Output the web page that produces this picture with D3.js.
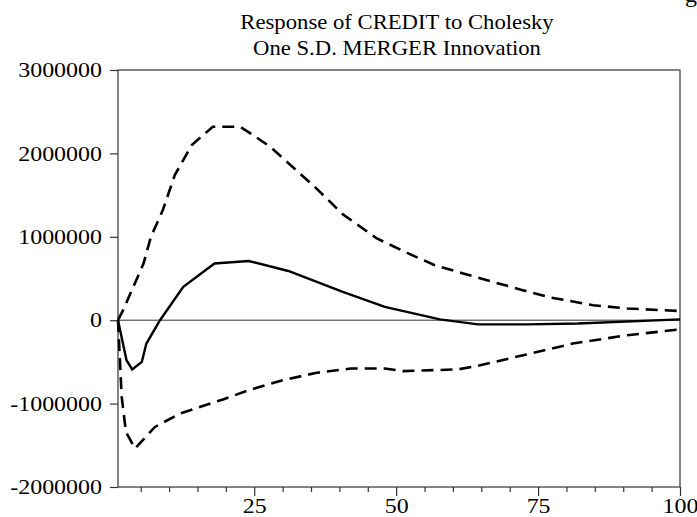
<!DOCTYPE html>
<html>
<head>
<meta charset="utf-8">
<script src="https://cdn.jsdelivr.net/npm/d3@7"></script>
<style>
  html, body { margin: 0; padding: 0; background: #fff; }
  svg { display: block; }
  text { font-family: "Liberation Serif", "Times New Roman", Times, serif; fill: #000; }
</style>
</head>
<body>
<svg id="chart" width="697" height="517"></svg>
<script>
// ---- data ----
const titleLines = ["Response of CREDIT to Cholesky", "One S.D. MERGER Innovation"];
const yTicks = [-2000000, -1000000, 0, 1000000, 2000000, 3000000];
const xMajorTicks = [25, 50, 75, 100];
const xMinorTicks = [5, 10, 15, 20, 30, 35, 40, 45, 55, 60, 65, 70, 80, 85, 90, 95];

// response (solid line)
const respPeriods = [1, 2.5, 3.5, 5.2, 6, 8.4, 12.5, 18, 24, 31, 40.6, 48, 57.7, 64.4, 73, 82, 100];
const respValues  = [0, -480000, -590000, -500000, -280000, 0, 400000, 680000, 710000, 590000, 340000, 160000, 10000, -50000, -50000, -40000, 10000];

// upper band (dashed)
const upperPeriods = [1, 1.9, 5.5, 6.8, 8.9, 11, 14, 17.7, 22.5, 24.8, 27.8, 32.7, 35.8, 40.6, 46.6, 52.8, 56.8, 61.8, 67, 72.3, 77.4, 84.7, 90.7, 100];
const upperValues  = [0, 120000, 680000, 1000000, 1320000, 1740000, 2100000, 2320000, 2320000, 2220000, 2080000, 1780000, 1590000, 1270000, 980000, 780000, 660000, 560000, 460000, 360000, 270000, 180000, 140000, 110000];

// lower band (dashed)
const lowerPeriods = [1, 1.65, 2.4, 4, 7.5, 11.9, 15.4, 19.5, 24, 30, 36, 42, 48, 51.2, 60.9, 64.8, 73, 81.1, 90.7, 100];
const lowerValues  = [0, -920000, -1340000, -1540000, -1280000, -1120000, -1040000, -950000, -840000, -720000, -630000, -580000, -580000, -610000, -590000, -540000, -410000, -280000, -180000, -110000];

// ---- layout ----
const svg = d3.select("#chart");
const L = 118, R = 680, T = 70, B = 487;
const x = d3.scaleLinear().domain([1, 100]).range([L, R]);
const y = d3.scaleLinear().domain([-2000000, 3000000]).range([B, T]);

// horizontal stretch of text to mimic the reference's wider glyphs
function stretch(sel, k) {
  sel.each(function () {
    const w = this.getComputedTextLength();
    if (w > 0) {
      d3.select(this).attr("textLength", (w * k).toFixed(1)).attr("lengthAdjust", "spacingAndGlyphs");
    }
  });
}

// title
const titles = svg.selectAll("text.title").data(titleLines).enter().append("text")
  .attr("class", "title")
  .attr("x", (L + R) / 2 - 2)
  .attr("y", (d, i) => 29 + i * 26)
  .attr("text-anchor", "middle")
  .attr("font-size", 21)
  .text(d => d);
stretch(titles, 1.08);

// cut-off glyph at top-right of the reference
svg.append("text").attr("x", 685).attr("y", 2).attr("font-size", 24).text("g");

// frame
svg.append("rect")
  .attr("x", L).attr("y", T).attr("width", R - L).attr("height", B - T)
  .attr("fill", "none").attr("stroke", "#333").attr("stroke-width", 1.2);

// y axis
const yAxis = d3.axisLeft(y).tickValues(yTicks).tickSize(8).tickPadding(8)
  .tickFormat(d => String(d));
const gy = svg.append("g").attr("transform", `translate(${L},0)`).call(yAxis);
gy.select(".domain").remove();
gy.selectAll("line").attr("stroke", "#333").attr("stroke-width", 1.2);
gy.selectAll("text").attr("font-size", 21)
  .attr("font-family", "Liberation Serif, Times New Roman, serif").attr("fill", "#000");
stretch(gy.selectAll("text"), 1.14);

// x axis: minor ticks
const gxm = svg.append("g").attr("transform", `translate(0,${B})`)
  .call(d3.axisBottom(x).tickValues(xMinorTicks).tickSize(5).tickFormat(""));
gxm.select(".domain").remove();
gxm.selectAll("line").attr("stroke", "#333").attr("stroke-width", 1.2);

// x axis: major ticks
const gx = svg.append("g").attr("transform", `translate(0,${B})`)
  .call(d3.axisBottom(x).tickValues(xMajorTicks).tickSize(9).tickPadding(2));
gx.select(".domain").remove();
gx.selectAll("line").attr("stroke", "#333").attr("stroke-width", 1.2);
gx.selectAll("text").attr("font-size", 21)
  .attr("font-family", "Liberation Serif, Times New Roman, serif").attr("fill", "#000");
stretch(gx.selectAll("text"), 1.14);

// zero line
svg.append("line")
  .attr("x1", L).attr("x2", R).attr("y1", y(0)).attr("y2", y(0))
  .attr("stroke", "#333").attr("stroke-width", 1);

// lines
const line = d3.line().x(d => x(d[0])).y(d => y(d[1]));
const plot = svg.append("g");
plot.append("path")
  .datum(upperPeriods.map((p, i) => [p, upperValues[i]]))
  .attr("d", line).attr("fill", "none").attr("stroke", "#000")
  .attr("stroke-width", 2.6).attr("stroke-dasharray", "12,7");
plot.append("path")
  .datum(lowerPeriods.map((p, i) => [p, lowerValues[i]]))
  .attr("d", line).attr("fill", "none").attr("stroke", "#000")
  .attr("stroke-width", 2.6).attr("stroke-dasharray", "12,7");
plot.append("path")
  .datum(respPeriods.map((p, i) => [p, respValues[i]]))
  .attr("d", line).attr("fill", "none").attr("stroke", "#000")
  .attr("stroke-width", 2.4).attr("stroke-linejoin", "miter");
</script>
</body>
</html>
